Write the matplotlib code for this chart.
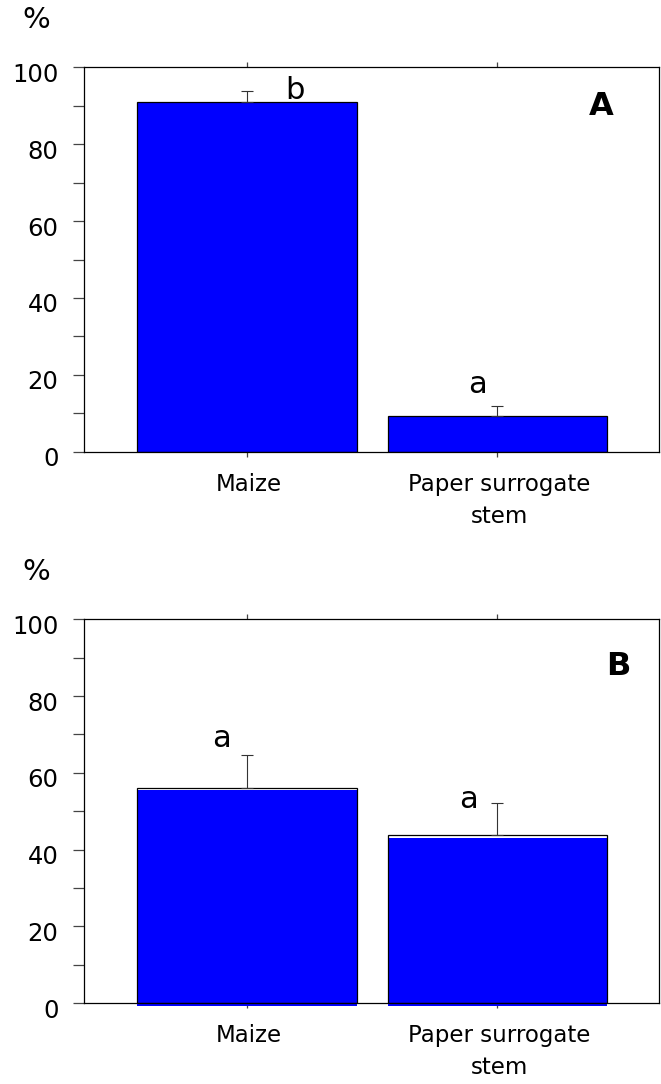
import numpy as np
import matplotlib.pyplot as plt
from matplotlib.ticker import MultipleLocator
from matplotlib.transforms import ScaledTranslation

# values
categories = ['Maize', 'Paper surrogate\nstem']
values_a = [90.9, 9.2]
errors_a = [2.9, 2.7]
letters_a = ['b', 'a']
values_b = [56.1, 43.7]
errors_b = [8.5, 8.4]
letters_b = ['a', 'a']
yticks = [0, 20, 40, 60, 80, 100]

plt.rcParams['font.family'] = 'DejaVu Sans'

fig = plt.figure(figsize=(6.61, 10.84), dpi=100)
ax_a = fig.add_axes([0.1275, 0.5833, 0.8694, 0.3546])
ax_b = fig.add_axes([0.1275, 0.0745, 0.8694, 0.3542])

x = np.arange(len(categories))
bar_w = 0.875


def style_axes(ax, panel, letter_x, letter_y):
    ax.set_xlim(-0.65, 1.645)
    ax.set_ylim(0, 100)
    ax.set_yticks(yticks)
    ax.yaxis.set_minor_locator(MultipleLocator(10))
    ax.set_xticks(x)
    ax.set_xticklabels(categories, fontsize=16.5, linespacing=1.5)
    ax.tick_params(axis='y', which='both', direction='out', length=8,
                   width=0.9, color='#444444', labelsize=17.5, pad=10.5)
    ax.tick_params(axis='x', top=True, direction='out', length=3.6,
                   width=0.9, color='#444444', pad=11.5)
    for s in ax.spines.values():
        s.set_linewidth(0.9)
    # labels sit a little under their ticks in the original
    for lbl in ax.get_yticklabels():
        lbl.set_transform(lbl.get_transform() +
                          ScaledTranslation(0, -5 / 100, fig.dpi_scale_trans))
    for lbl in ax.get_xticklabels():
        lbl.set_transform(lbl.get_transform() +
                          ScaledTranslation(2 / 100, 0, fig.dpi_scale_trans))
    ax.text(letter_x, letter_y, panel, fontsize=23, fontweight='bold',
            ha='center', va='baseline')


# panel A
ax_a.bar(x, values_a, width=bar_w, color='#0000ff', edgecolor='black',
         linewidth=0.9, zorder=2)
ax_a.errorbar(x, values_a, yerr=[np.zeros(2), errors_a], fmt='none',
              ecolor='#333333', elinewidth=0.8, capsize=4, capthick=0.8,
              zorder=3)
ax_a.text(0.19, 91.7, letters_a[0], fontsize=22, ha='center', va='baseline')
ax_a.text(0.92, 15.2, letters_a[1], fontsize=22, ha='center', va='baseline')
style_axes(ax_a, 'A', 1.413, 87.6)

# panel B: the blue fill is printed slightly lower than its outline
ax_b.bar(x, values_b, width=bar_w, bottom=-0.6, color='#0000ff',
         linewidth=0, zorder=2, clip_on=False)
ax_b.bar(x, values_b, width=bar_w, facecolor='none', edgecolor='black',
         linewidth=0.9, zorder=3)
ax_b.errorbar(x, values_b, yerr=[np.zeros(2), errors_b], fmt='none',
              ecolor='#333333', elinewidth=0.8, capsize=4, capthick=0.8,
              zorder=3)
ax_b.text(-0.10, 66.7, letters_b[0], fontsize=22, ha='center', va='baseline')
ax_b.text(0.885, 50.9, letters_b[1], fontsize=22, ha='center', va='baseline')
style_axes(ax_b, 'B', 1.481, 85.5)

fig.text(36.7 / 661, 1 - 20 / 1084, '%', fontsize=21, ha='center', va='center')
fig.text(36.7 / 661, 1 - 572 / 1084, '%', fontsize=21, ha='center', va='center')

plt.savefig('out.png', dpi=100)
